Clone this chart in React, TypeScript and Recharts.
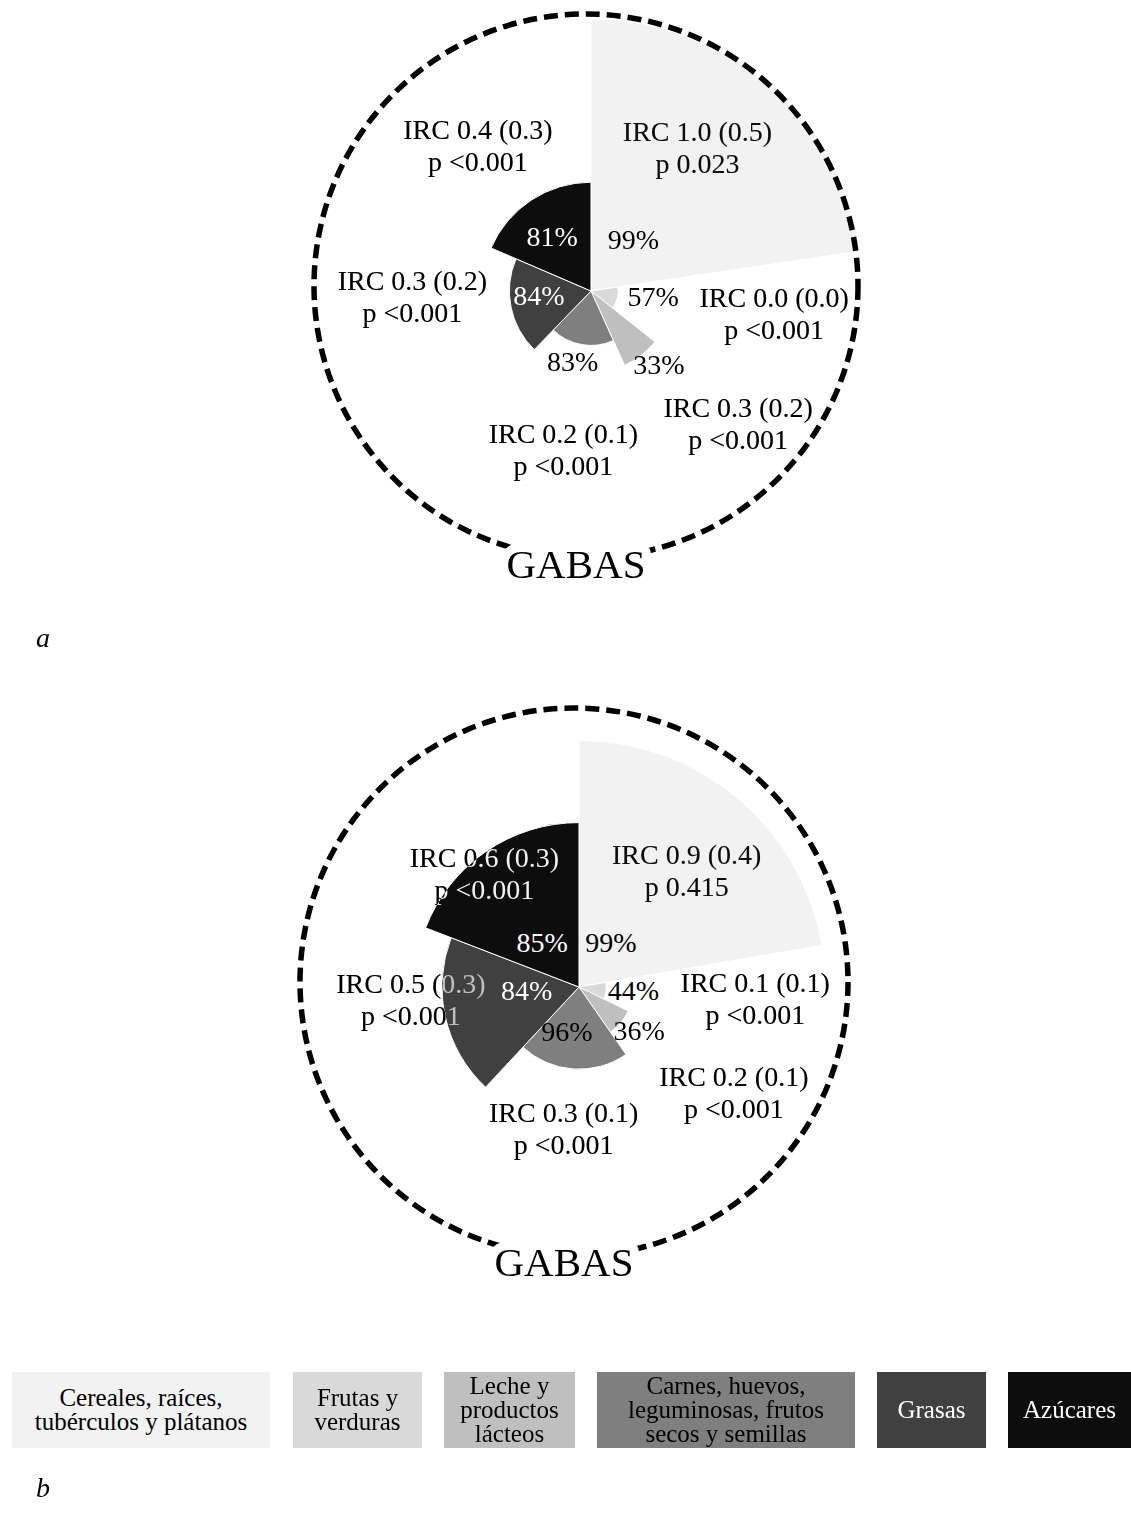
import { PieChart, Pie, Cell, Customized } from "recharts";

const FUENTE = "'Liberation Serif', 'Times New Roman', serif";

const categorias = [
  "Cereales, raíces, tubérculos y plátanos",
  "Frutas y verduras",
  "Leche y productos lácteos",
  "Carnes, huevos, leguminosas, frutos secos y semillas",
  "Grasas",
  "Azúcares",
];
const colores = ["#f2f2f2", "#d9d9d9", "#bfbfbf", "#7f7f7f", "#404040", "#0d0d0d"];
const colorPct = ["#000", "#000", "#000", "#000", "#fff", "#fff"];

// panel a
const pctA = [99, 57, 33, 83, 84, 81];
const radioA = [1.0, 0.1, 0.3, 0.2, 0.3, 0.4];
const ircA = ["IRC 1.0 (0.5)", "IRC 0.0 (0.0)", "IRC 0.3 (0.2)", "IRC 0.2 (0.1)", "IRC 0.3 (0.2)", "IRC 0.4 (0.3)"];
const pA = ["p 0.023", "p <0.001", "p <0.001", "p <0.001", "p <0.001", "p <0.001"];

// panel b
const pctB = [99, 44, 36, 96, 84, 85];
const radioB = [0.9, 0.1, 0.2, 0.3, 0.5, 0.6];
const ircB = ["IRC 0.9 (0.4)", "IRC 0.1 (0.1)", "IRC 0.2 (0.1)", "IRC 0.3 (0.1)", "IRC 0.5 (0.3)", "IRC 0.6 (0.3)"];
const pB = ["p 0.415", "p <0.001", "p <0.001", "p <0.001", "p <0.001", "p <0.001"];

// ajuste de etiquetas: [desplazamiento angular (grados, horario), radio px]
const etiqA = {
  pct: [[5, 66], [-6, 68], [-5, 107], [0, 77], [0, 48], [-1, 60]],
  irc: [[-2, 178], [-7, 190], [-10, 205], [-2, 165], [8, 174], [-4, 178]],
};
const etiqB = {
  pct: [[3, 54], [0, 60], [-4, 81], [4, 50], [3, 48], [-4, 51]],
  irc: [[5, 159], [-3, 182], [-6, 194], [0, 146], [7, 164], [-5, 141]],
};

const RAD = Math.PI / 180;

interface RosaProps {
  pct: number[];
  radios: number[];
  irc: string[];
  pvals: string[];
  etiq: { pct: number[][]; irc: number[][] };
  cx: number;
  cy: number;
  R: number;
  alto: number;
}

function Rosa({ pct, radios, irc, pvals, etiq, cx, cy, R, alto }: RosaProps) {
  const data = categorias.map((name, i) => ({ name, value: pct[i], radio: radios[i] }));

  const pos = (midAngle: number, d: number[]) => {
    const a = (midAngle - d[0]) * RAD;
    return { x: cx + d[1] * Math.cos(-a), y: cy + d[1] * Math.sin(-a) };
  };

  const renderEtiqueta = (props: any) => {
    const { midAngle, index } = props;
    const p1 = pos(midAngle, etiq.pct[index]);
    const p2 = pos(midAngle, etiq.irc[index]);
    return (
      <g key={`et-${index}`}>
        <text
          x={p1.x}
          y={p1.y}
          textAnchor="middle"
          dominantBaseline="central"
          fontFamily={FUENTE}
          fontSize={28}
          fill={colorPct[index]}
        >
          {`${pct[index]}%`}
        </text>
        <text
          textAnchor="middle"
          fontFamily={FUENTE}
          fontSize={28}
          fill="#fff"
          style={{ mixBlendMode: "difference" }}
        >
          <tspan x={p2.x} y={p2.y - 6}>{irc[index]}</tspan>
          <tspan x={p2.x} y={p2.y + 26}>{pvals[index]}</tspan>
        </text>
      </g>
    );
  };

  return (
    <div style={{ position: "relative", width: 1131, height: alto }}>
      <PieChart width={1131} height={alto} style={{ background: "#fff" }}>
        <Customized component={() => <rect x={0} y={0} width={1131} height={alto} fill="#fff" />} />
        {data.map((d, i) => (
          <Pie
            key={d.name}
            data={data}
            dataKey="value"
            nameKey="name"
            cx={cx}
            cy={cy}
            startAngle={90}
            endAngle={-270}
            innerRadius={0}
            outerRadius={d.radio * R}
            isAnimationActive={false}
            label={false}
            labelLine={false}
          >
            {data.map((e, j) => (
              <Cell
                key={e.name}
                fill={j === i ? colores[j] : "none"}
                stroke={j === i ? "#fff" : "none"}
                strokeWidth={1}
              />
            ))}
          </Pie>
        ))}
        <Pie
          data={data}
          dataKey="value"
          nameKey="name"
          cx={cx}
          cy={cy}
          startAngle={90}
          endAngle={-270}
          outerRadius={R}
          isAnimationActive={false}
          label={renderEtiqueta}
          labelLine={false}
        >
          {data.map((e) => (
            <Cell key={e.name} fill="none" stroke="none" />
          ))}
        </Pie>
      </PieChart>
      <svg
        width={1131}
        height={alto}
        style={{ position: "absolute", left: 0, top: 0, pointerEvents: "none" }}
      >
        <circle cx={cx} cy={cy} r={R} fill="none" stroke="#000" strokeWidth={5.5} strokeDasharray="14 7" />
        <text
          x={cx - 10}
          y={cy + R + 6}
          textAnchor="middle"
          dominantBaseline="central"
          fontFamily={FUENTE}
          fontSize={41}
          fill="#000"
          stroke="#fff"
          strokeWidth={18}
          strokeLinejoin="round"
          paintOrder="stroke"
        >
          GABAS
        </text>
      </svg>
    </div>
  );
}

const leyenda = [
  { x: 12, w: 258, lineas: ["Cereales, raíces,", "tubérculos y plátanos"] },
  { x: 293, w: 129, lineas: ["Frutas y", "verduras"] },
  { x: 444, w: 131, lineas: ["Leche y", "productos", "lácteos"] },
  { x: 597, w: 258, lineas: ["Carnes, huevos,", "leguminosas, frutos", "secos y semillas"] },
  { x: 877, w: 109, lineas: ["Grasas"] },
  { x: 1008, w: 123, lineas: ["Azúcares"] },
];

export default function App() {
  return (
    <div
      style={{
        position: "absolute",
        left: 0,
        top: 0,
        width: 1131,
        height: 1515,
        background: "#fff",
        fontFamily: FUENTE,
        overflow: "hidden",
      }}
    >
      <div style={{ position: "absolute", left: 0, top: 0 }}>
        <Rosa pct={pctA} radios={radioA} irc={ircA} pvals={pA} etiq={etiqA} cx={586} cy={286} R={272} alto={600} />
      </div>
      <div style={{ position: "absolute", left: 36, top: 622, fontSize: 28, fontStyle: "italic" }}>a</div>

      <div style={{ position: "absolute", left: 0, top: 690 }}>
        <Rosa pct={pctB} radios={radioB} irc={ircB} pvals={pB} etiq={etiqB} cx={574} cy={292} R={274} alto={610} />
      </div>

      {leyenda.map((l, i) => (
        <div
          key={l.x}
          style={{
            position: "absolute",
            left: l.x,
            top: 1372,
            width: l.w,
            height: 76,
            background: colores[i],
            color: colorPct[i],
            display: "flex",
            flexDirection: "column",
            alignItems: "center",
            justifyContent: "center",
            fontSize: 25,
            lineHeight: "24px",
            textAlign: "center",
          }}
        >
          {l.lineas.map((t) => (
            <div key={t}>{t}</div>
          ))}
        </div>
      ))}
      <div style={{ position: "absolute", left: 36, top: 1472, fontSize: 28, fontStyle: "italic" }}>b</div>
    </div>
  );
}
